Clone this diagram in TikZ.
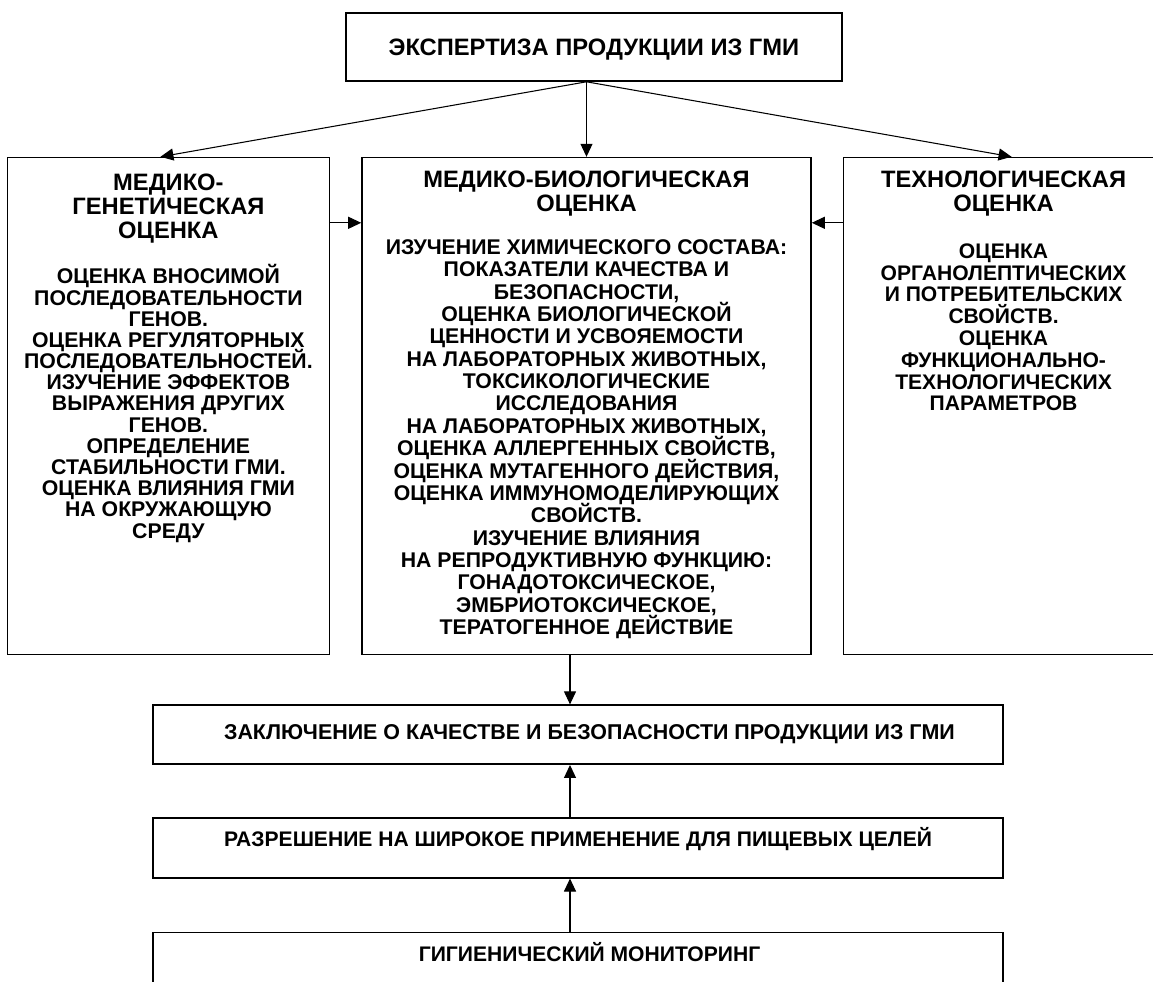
\documentclass[tikz,border=0pt]{standalone}
\usepackage{fontspec}
\setmainfont{Liberation Sans}
\usetikzlibrary{positioning,arrows.meta}

\newcommand\tightlines{\lineskiplimit=-20pt\lineskip=0pt}

\tikzset{
  blok/.style={draw, line width=0.9pt, inner sep=0pt},
  head/.style={font=\bfseries\fontsize{13.5}{13.6}\selectfont\tightlines, align=center, inner sep=0pt, anchor=north},
  body/.style={font=\bfseries\fontsize{12}{12.4}\selectfont\tightlines, align=center, inner sep=0pt, anchor=north},
  line/.style={font=\bfseries\fontsize{12}{12}\selectfont, inner sep=0pt, anchor=base},
  arr/.style={-{Triangle[length=2.6mm,width=2.4mm]}, line width=0.6pt},
}

\begin{document}
\begin{tikzpicture}
  \useasboundingbox (0,0) rectangle (23.06,-19.62);

  % frames
  \node[blok, minimum width=9.92cm, minimum height=1.36cm] (Top) at (11.88,-0.94) {};
  \node[blok, minimum width=8.98cm, minimum height=9.94cm] (MedBio)  [below=1.5cm of Top, xshift=-0.15cm] {};
  \node[blok, minimum width=6.44cm, minimum height=9.94cm] (MedGen)  [left=0.62cm of MedBio]  {};
  \node[blok, minimum width=6.40cm, minimum height=9.94cm] (Tech)    [right=0.62cm of MedBio] {};
  \node[blok, minimum width=17cm,   minimum height=1.18cm] (Concl)   [below=0.98cm of MedBio, xshift=-0.17cm] {};
  \node[blok, minimum width=17cm,   minimum height=1.2cm]  (Perm)    [below=1.04cm of Concl] {};
  \node[blok, minimum width=17cm,   minimum height=1.48cm] (Monitor) [below=1.06cm of Perm]  {};

  % texts
  \node[line, font=\bfseries\fontsize{13.5}{13.5}\selectfont] (TopText) at ([yshift=-1.7mm]Top.center) {ЭКСПЕРТИЗА ПРОДУКЦИИ ИЗ ГМИ};

  \node[head] (MedGenHead) at ([yshift=-3.4mm]MedGen.north) {МЕДИКО-\\ГЕНЕТИЧЕСКАЯ\\ОЦЕНКА};
  \node[body, font=\bfseries\fontsize{12.1}{12.05}\selectfont\tightlines] (MedGenBody) at ([yshift=-21.5mm]MedGen.north)
    {ОЦЕНКА ВНОСИМОЙ\\ПОСЛЕДОВАТЕЛЬНОСТИ\\ГЕНОВ.\\ОЦЕНКА РЕГУЛЯТОРНЫХ\\ПОСЛЕДОВАТЕЛЬНОСТЕЙ.\\
     ИЗУЧЕНИЕ ЭФФЕКТОВ\\ВЫРАЖЕНИЯ ДРУГИХ\\ГЕНОВ.\\ОПРЕДЕЛЕНИЕ\\СТАБИЛЬНОСТИ ГМИ.\\
     ОЦЕНКА ВЛИЯНИЯ ГМИ\\НА ОКРУЖАЮЩУЮ\\СРЕДУ};

  \node[head] (MedBioHead) at ([yshift=-2.8mm]MedBio.north) {МЕДИКО-БИОЛОГИЧЕСКАЯ\\ОЦЕНКА};
  \node[body, font=\bfseries\fontsize{12.1}{12.72}\selectfont\tightlines] (MedBioBody) at ([yshift=-16.5mm]MedBio.north)
    {ИЗУЧЕНИЕ ХИМИЧЕСКОГО СОСТАВА:\\ПОКАЗАТЕЛИ КАЧЕСТВА И\\БЕЗОПАСНОСТИ,\\ОЦЕНКА БИОЛОГИЧЕСКОЙ\\
     ЦЕННОСТИ И УСВОЯЕМОСТИ\\НА ЛАБОРАТОРНЫХ ЖИВОТНЫХ,\\ТОКСИКОЛОГИЧЕСКИЕ\\ИССЛЕДОВАНИЯ\\
     НА ЛАБОРАТОРНЫХ ЖИВОТНЫХ,\\ОЦЕНКА АЛЛЕРГЕННЫХ СВОЙСТВ,\\ОЦЕНКА МУТАГЕННОГО ДЕЙСТВИЯ,\\
     ОЦЕНКА ИММУНОМОДЕЛИРУЮЩИХ\\СВОЙСТВ.\\ИЗУЧЕНИЕ ВЛИЯНИЯ\\НА РЕПРОДУКТИВНУЮ ФУНКЦИЮ:\\
     ГОНАДОТОКСИЧЕСКОЕ,\\ЭМБРИОТОКСИЧЕСКОЕ,\\ТЕРАТОГЕННОЕ ДЕЙСТВИЕ};

  \node[head] (TechHead) at ([yshift=-2.8mm]Tech.north) {ТЕХНОЛОГИЧЕСКАЯ\\ОЦЕНКА};
  \node[body] (TechBody) at ([yshift=-17.3mm]Tech.north)
    {ОЦЕНКА\\ОРГАНОЛЕПТИЧЕСКИХ\\И ПОТРЕБИТЕЛЬСКИХ\\СВОЙСТВ.\\ОЦЕНКА\\ФУНКЦИОНАЛЬНО-\\
     ТЕХНОЛОГИЧЕСКИХ\\ПАРАМЕТРОВ};

  \node[line, font=\bfseries\fontsize{12.2}{12}\selectfont] (ConclText) at ([xshift=2.3mm,yshift=-1.0mm]Concl.center) {ЗАКЛЮЧЕНИЕ О КАЧЕСТВЕ И БЕЗОПАСНОСТИ ПРОДУКЦИИ ИЗ ГМИ};
  \node[line] (PermText)    at ([yshift=0.2mm]Perm.center) {РАЗРЕШЕНИЕ НА ШИРОКОЕ ПРИМЕНЕНИЕ ДЛЯ ПИЩЕВЫХ ЦЕЛЕЙ};
  \node[line] (MonitorText) at ([xshift=2.3mm,yshift=-5.9mm]Monitor.north) {ГИГИЕНИЧЕСКИЙ МОНИТОРИНГ};

  % connectors
  \coordinate (Apex) at (Top.south -| MedBio.north);
  \coordinate (Down) at ([xshift=-3.3mm]MedBio.south);

  \path[arr]
    (Apex)                            edge ([xshift=-1.6mm]MedGen.north)
    (Apex)                            edge (MedBio.north)
    (Apex)                            edge ([xshift=1.6mm]Tech.north)
    ([yshift=-13.2mm]MedGen.north east) edge ([yshift=-13.2mm]MedBio.north west)
    ([yshift=-13.2mm]Tech.north west)   edge ([yshift=-13.2mm]MedBio.north east)
    (Down)                            edge (Concl.north -| Down)
    (Perm.north -| Down)              edge (Concl.south -| Down)
    (Monitor.north -| Down)           edge (Perm.south -| Down);
\end{tikzpicture}
\end{document}
